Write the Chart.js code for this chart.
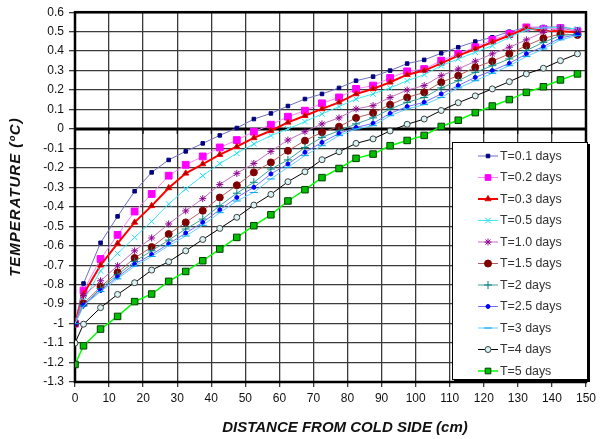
<!DOCTYPE html>
<html>
<head>
<meta charset="utf-8">
<script src="https://cdn.jsdelivr.net/npm/chart.js@4.4.1/dist/chart.umd.min.js"></script>
<style>
html,body{margin:0;padding:0;background:#fff;}
#wrap{width:600px;height:439px;position:relative;}
</style>
</head>
<body>
<div id="wrap"><canvas id="c" width="600" height="439"></canvas></div>
<script>
const xValues = [0,2.5,7.5,12.5,17.5,22.5,27.5,32.5,37.5,42.5,47.5,52.5,57.5,62.5,67.5,72.5,77.5,82.5,87.5,92.5,97.5,102.5,107.5,112.5,117.5,122.5,127.5,132.5,137.5,142.5,147.5];
const xTickLabels = [0,10,20,30,40,50,60,70,80,90,100,110,120,130,140,150];
const yTickLabels = [0.6,0.5,0.4,0.3,0.2,0.1,0,-0.1,-0.2,-0.3,-0.4,-0.5,-0.6,-0.7,-0.8,-0.9,-1,-1.1,-1.2,-1.3];
const seriesNames = ["T=0.1 days","T=0.2 days","T=0.3 days","T=0.5 days","T=1.0 days","T=1.5 days","T=2 days","T=2.5 days","T=3 days","T=4 days","T=5 days"];
const xTitle = "DISTANCE FROM COLD SIDE (cm)";
const yTitle = "TEMPERATURE (ºC)";

const t01 = [-1.0,-0.794,-0.585,-0.449,-0.320,-0.223,-0.159,-0.115,-0.074,-0.033,0.005,0.051,0.080,0.118,0.154,0.180,0.211,0.248,0.269,0.300,0.336,0.355,0.389,0.420,0.449,0.471,0.500,0.522,0.524,0.524,0.512];
const t02 = [-1.0,-0.830,-0.668,-0.544,-0.424,-0.334,-0.240,-0.184,-0.141,-0.095,-0.057,-0.014,0.022,0.063,0.094,0.132,0.162,0.206,0.223,0.262,0.296,0.308,0.351,0.386,0.420,0.458,0.488,0.522,0.514,0.519,0.502];
const t03 = [-1.0,-0.848,-0.700,-0.588,-0.480,-0.395,-0.303,-0.228,-0.180,-0.132,-0.091,-0.046,-0.009,0.034,0.068,0.103,0.137,0.180,0.206,0.240,0.279,0.300,0.337,0.377,0.411,0.446,0.480,0.519,0.505,0.502,0.497];
const t05 = [-1.0,-0.883,-0.729,-0.640,-0.557,-0.475,-0.386,-0.308,-0.240,-0.178,-0.125,-0.077,-0.034,0.000,0.038,0.077,0.115,0.154,0.180,0.211,0.248,0.279,0.325,0.360,0.394,0.428,0.471,0.509,0.519,0.522,0.514];
const t10 = [-1.0,-0.857,-0.780,-0.703,-0.626,-0.560,-0.488,-0.421,-0.358,-0.285,-0.228,-0.177,-0.115,-0.057,-0.014,0.026,0.057,0.103,0.120,0.162,0.200,0.223,0.274,0.308,0.348,0.386,0.420,0.458,0.497,0.519,0.502];
const t15 = [-1.0,-0.897,-0.811,-0.737,-0.663,-0.607,-0.540,-0.480,-0.420,-0.352,-0.289,-0.223,-0.172,-0.112,-0.060,-0.017,0.012,0.057,0.082,0.125,0.162,0.188,0.240,0.274,0.317,0.348,0.386,0.428,0.466,0.488,0.483];
const t2 = [-1.0,-0.905,-0.820,-0.749,-0.681,-0.626,-0.571,-0.514,-0.463,-0.394,-0.330,-0.274,-0.206,-0.159,-0.095,-0.043,-0.009,0.026,0.057,0.103,0.137,0.162,0.211,0.248,0.291,0.325,0.360,0.403,0.445,0.480,0.488];
const t25 = [-1.0,-0.905,-0.830,-0.760,-0.695,-0.645,-0.590,-0.535,-0.480,-0.415,-0.352,-0.300,-0.231,-0.180,-0.120,-0.069,-0.023,0.008,0.029,0.080,0.115,0.137,0.180,0.223,0.265,0.300,0.337,0.386,0.423,0.468,0.485];
const t3 = [-1.0,-0.910,-0.835,-0.770,-0.705,-0.655,-0.600,-0.550,-0.495,-0.430,-0.370,-0.326,-0.257,-0.197,-0.137,-0.086,-0.034,0.000,0.017,0.068,0.103,0.125,0.162,0.211,0.248,0.286,0.325,0.372,0.411,0.458,0.480];
const t4 = [-1.10,-1.003,-0.918,-0.850,-0.790,-0.725,-0.682,-0.626,-0.568,-0.511,-0.454,-0.391,-0.336,-0.271,-0.220,-0.158,-0.117,-0.074,-0.051,-0.010,0.024,0.051,0.095,0.135,0.170,0.206,0.243,0.283,0.312,0.351,0.386];
const t5 = [-1.21,-1.114,-1.028,-0.963,-0.887,-0.848,-0.783,-0.732,-0.677,-0.617,-0.557,-0.497,-0.441,-0.370,-0.312,-0.250,-0.203,-0.151,-0.129,-0.086,-0.059,-0.033,0.013,0.045,0.084,0.118,0.151,0.188,0.217,0.252,0.283];

const seriesValues = [t01,t02,t03,t05,t10,t15,t2,t25,t3,t4,t5];

const styles = [
  {line:'#6F6FC0', bg:'#000080', bd:'#000080', ps:'rect', r:2.5, lw:1},
  {line:'#FF80FF', bg:'#FF00FF', bd:'#FF00FF', ps:'rect', r:4.8, lw:1},
  {line:'#FF0000', bg:'#A00000', bd:'#FF0000', ps:'triangle', r:3.5, lw:2},
  {line:'#40E8F0', bg:'#00FFFF', bd:'#20E0F0', ps:'crossRot', r:4, lw:1},
  {line:'#C070C0', bg:'#800080', bd:'#900090', ps:'star', r:3.5, lw:1},
  {line:'#B06060', bg:'#800000', bd:'#800000', ps:'circle', r:3.5, lw:1},
  {line:'#40A0A0', bg:'#008080', bd:'#008080', ps:'cross', r:4, lw:1},
  {line:'#7070FF', bg:'#0000FF', bd:'#0000FF', ps:'circle', r:2, lw:1},
  {line:'#60D0FF', bg:'#00B0FF', bd:'#00A0F0', ps:'line', r:4, lw:1},
  {line:'#000000', bg:'#D8F4F4', bd:'#404040', ps:'circle', r:3, lw:1},
  {line:'#00FF00', bg:'#00C000', bd:'#004000', ps:'rect', r:4.6, lw:1.5}
];

const datasets = seriesNames.map((name,i)=>({
  label: name,
  data: xValues.map((x,j)=>({x:x, y:seriesValues[i][j]})),
  borderColor: styles[i].line,
  backgroundColor: styles[i].bg,
  pointBackgroundColor: styles[i].bg,
  pointBorderColor: styles[i].bd,
  pointStyle: styles[i].ps,
  pointRadius: styles[i].r,
  pointBorderWidth: 1,
  borderWidth: styles[i].lw,
  tension: 0,
  fill: false
})).reverse();

const fontFam = '"Liberation Sans", Arial, sans-serif';
const titleFont = 'italic bold 15px ' + fontFam;

const frame = {
  id:'frame',
  beforeDatasetsDraw(chart){
    const {ctx, chartArea:a, scales} = chart;
    ctx.save();
    const y0 = scales.y.getPixelForValue(0);
    ctx.strokeStyle = '#000';
    ctx.lineWidth = 3;
    ctx.beginPath(); ctx.moveTo(a.left, y0); ctx.lineTo(a.right, y0); ctx.stroke();
    ctx.lineWidth = 1;
    xTickLabels.forEach(v=>{
      const px = scales.x.getPixelForValue(v);
      ctx.beginPath(); ctx.moveTo(px, y0); ctx.lineTo(px, y0+5); ctx.stroke();
    });
    ctx.lineWidth = 2.5;
    ctx.strokeRect(a.left, a.top, a.right-a.left, a.bottom-a.top);
    ctx.restore();
  },
  afterDraw(chart){
    const ctx = chart.ctx;
    const a = chart.chartArea;
    ctx.save();
    ctx.fillStyle = '#111';
    ctx.textAlign = 'center';
    ctx.textBaseline = 'middle';
    ctx.font = titleFont;
    ctx.fillText(xTitle, 345, 428);
    ctx.translate(16, (a.top + a.bottom)/2);
    ctx.rotate(-Math.PI/2);
    if ('letterSpacing' in ctx) ctx.letterSpacing = '1px';
    ctx.fillText(yTitle, 0, 0);
    ctx.restore();

    ctx.save();
    const lx = 452, ly = 142, lw = 136, lh = 238;
    ctx.fillStyle = '#000';
    ctx.fillRect(lx+2, ly+2, lw, lh);
    ctx.fillStyle = '#fff';
    ctx.fillRect(lx, ly, lw, lh);
    ctx.strokeStyle = '#000';
    ctx.lineWidth = 1;
    ctx.strokeRect(lx+0.5, ly+0.5, lw-1, lh-1);
    ctx.font = '12.4px ' + fontFam;
    ctx.textBaseline = 'middle';
    seriesNames.forEach((name,i)=>{
      const y = 156 + i*21.5;
      const s = styles[i];
      ctx.strokeStyle = s.line;
      ctx.lineWidth = s.lw;
      ctx.beginPath(); ctx.moveTo(478, y); ctx.lineTo(498, y); ctx.stroke();
      ctx.fillStyle = s.bg;
      ctx.strokeStyle = s.bd;
      ctx.lineWidth = 1;
      Chart.helpers.drawPoint(ctx, {pointStyle:s.ps, radius:Math.min(s.r,4), rotation:0, borderWidth:1}, 488, y);
      ctx.fillStyle = '#333';
      ctx.fillText(name, 500, y+0.5);
    });
    ctx.restore();
  }
};

new Chart(document.getElementById('c'), {
  type:'line',
  data:{datasets},
  options:{
    responsive:false,
    animation:false,
    devicePixelRatio:1,
    layout:{padding:{left:0, right:14, top:12, bottom:0}},
    plugins:{legend:{display:false}, tooltip:{enabled:false}},
    scales:{
      x:{
        type:'linear', min:0, max:150,
        afterBuildTicks(s){ s.ticks = xTickLabels.map(v=>({value:v})); },
        afterFit(s){ s.height = 57; },
        ticks:{color:'#111', font:{family:fontFam, size:12}, padding:4, maxRotation:0, autoSkip:false},
        grid:{color:'#3a3a3a', lineWidth:1.3, drawTicks:true, tickLength:5},
        border:{display:false},
        title:{display:false}
      },
      y:{
        type:'linear', min:-1.3, max:0.6,
        afterBuildTicks(s){ s.ticks = yTickLabels.map(v=>({value:v})); },
        afterFit(s){ s.width = 75; },
        ticks:{color:'#111', font:{family:fontFam, size:12}, padding:5, autoSkip:false,
          callback:(v)=>String(Math.round(v*10)/10)},
        grid:{color:'#3a3a3a', lineWidth:1.3, drawTicks:true, tickLength:6},
        border:{display:false},
        title:{display:false}
      }
    }
  },
  plugins:[frame]
});
</script>
</body>
</html>
